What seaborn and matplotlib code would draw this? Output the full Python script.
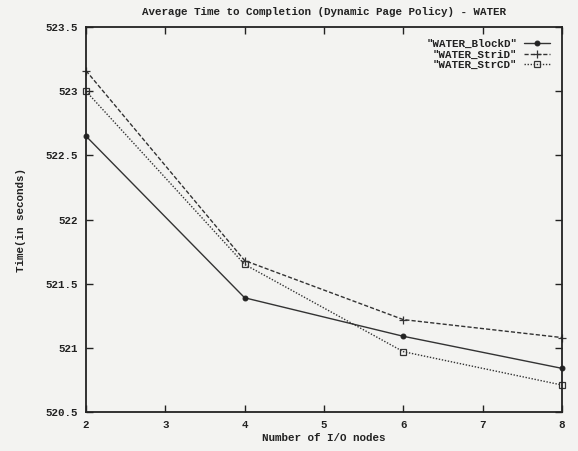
import matplotlib
matplotlib.use("Agg")
import matplotlib.pyplot as plt
import seaborn as sns
import pandas as pd

# I/O node counts and completion times (seconds) for each striping scheme
io_nodes = [2, 4, 6, 8]
block_d = [522.65, 521.39, 521.09, 520.84]
stri_d = [523.16, 521.68, 521.22, 521.08]
strc_d = [523.00, 521.65, 520.97, 520.71]

series_names = ['"WATER_BlockD"', '"WATER_StriD"', '"WATER_StrCD"']
x_ticks = [2, 3, 4, 5, 6, 7, 8]
y_ticks = [520.5, 521, 521.5, 522, 522.5, 523, 523.5]

sns.set_style("ticks")
plt.rcParams["font.family"] = ["Liberation Mono", "DejaVu Sans Mono"]
plt.rcParams["font.weight"] = "bold"

df = pd.DataFrame({
    "nodes": io_nodes * 3,
    "time": block_d + stri_d + strc_d,
    "series": [series_names[0]] * 4 + [series_names[1]] * 4 + [series_names[2]] * 4,
})

fig = plt.figure(figsize=(5.78, 4.51), dpi=100, facecolor="#f3f3f1")
ax = fig.add_axes([0.1488, 0.0865, 0.8235, 0.8535])
ax.set_facecolor("#f3f3f1")

styles = {
    series_names[0]: dict(linestyle="-", marker="o", markersize=3.5,
                          markerfacecolor="#222222", markeredgecolor="#222222"),
    series_names[1]: dict(linestyle=(0, (3, 1.5)), marker="+", markersize=6,
                          markeredgewidth=0.9, markeredgecolor="#333333"),
    series_names[2]: dict(linestyle=(0, (1, 1.2)), marker="s", markersize=4.5,
                          markerfacecolor="none", markeredgecolor="#333333",
                          markeredgewidth=0.9),
}

for name in series_names:
    sub = df[df["series"] == name]
    sns.lineplot(data=sub, x="nodes", y="time", ax=ax, color="#333333",
                 linewidth=1.0, label=name, clip_on=False, **styles[name])

ax.set_xlim(2, 8)
ax.set_ylim(520.5, 523.5)
ax.set_xticks(x_ticks)
ax.set_xticklabels([str(t) for t in x_ticks])
ax.set_yticks(y_ticks)
ax.set_yticklabels(["520.5", "521", "521.5", "522", "522.5", "523", "523.5"])
ax.tick_params(direction="in", top=True, right=True, length=5, width=1.0,
               labelsize=7.8, colors="#222222", pad=6)
for side in ax.spines.values():
    side.set_linewidth(1.3)
    side.set_color("#222222")

ax.set_title("Average Time to Completion (Dynamic Page Policy) - WATER",
             fontsize=7.8, fontweight="bold", color="#222222", pad=9)
ax.set_xlabel("Number of I/O nodes", fontsize=7.8, fontweight="bold",
              color="#222222", labelpad=2)
ax.set_ylabel("Time(in seconds)", fontsize=7.8, fontweight="bold",
              color="#222222", labelpad=14)

leg = ax.legend(loc="upper right", frameon=False, markerfirst=False,
                fontsize=7.8, handlelength=2.4, handletextpad=0.6,
                labelspacing=0.05, borderaxespad=0.7)
for t in leg.get_texts():
    t.set_color("#222222")

fig.savefig("out.png", dpi=100, facecolor=fig.get_facecolor())
